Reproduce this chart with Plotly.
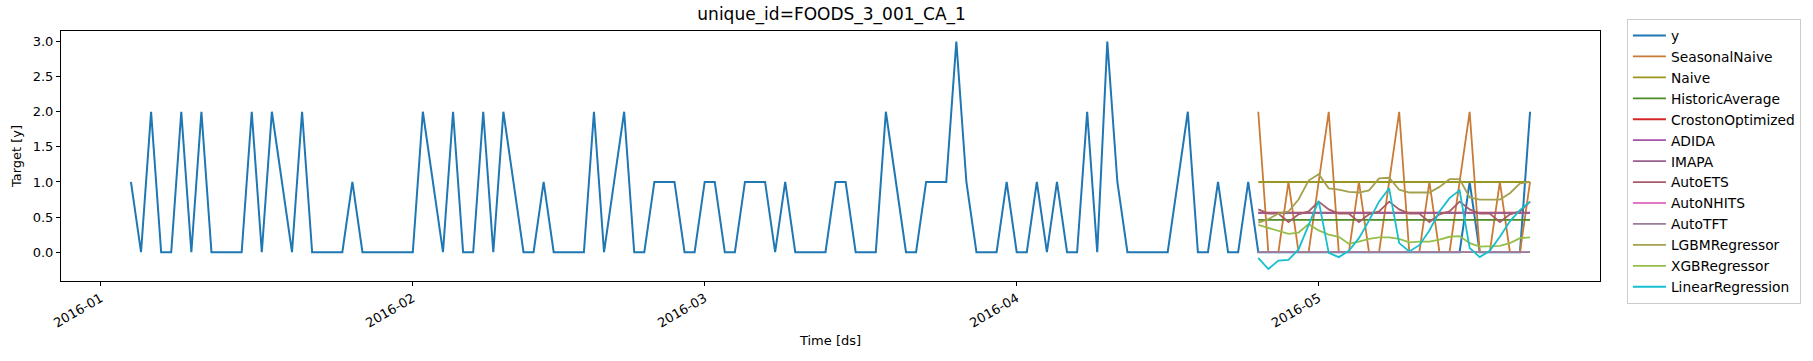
import pandas as pd
import plotly.graph_objects as go

# ---------------- data ----------------
y_start = "2016-01-04"
y_values = [
    1, 0, 2, 0, 0, 2, 0, 2, 0, 0, 0, 0, 2, 0, 2, 1, 0, 2, 0, 0,
    0, 0, 1, 0, 0, 0, 0, 0, 0, 2, 1, 0, 2, 0, 0, 2, 0, 2, 1, 0,
    0, 1, 0, 0, 0, 0, 2, 0, 1, 2, 0, 0, 1, 1, 1, 0, 0, 1, 1, 0,
    0, 1, 1, 1, 0, 1, 0, 0, 0, 0, 1, 1, 0, 0, 0, 2, 1, 0, 0, 1,
    1, 1, 3, 1, 0, 0, 0, 1, 0, 0, 1, 0, 1, 0, 0, 2, 0, 3, 1, 0,
    0, 0, 0, 0, 1, 2, 0, 0, 1, 0, 0, 1, 0, 0, 0, 0, 0, 0, 0, 0,
    0, 0, 0, 0, 0, 0, 0, 0, 0, 0, 0, 0, 0, 1, 0, 0, 0, 0, 0, 2,
]

fc_start = "2016-04-25"
seasonal_naive = [2, 0, 0, 1, 0, 0, 1] * 4
naive = [1.0] * 28
historic_average = [0.46] * 28
croston_optimized = [0.565] * 28
adida = [0.56] * 28
imapa = [0.56] * 28
auto_ets = [0.61, 0.55, 0.55, 0.43, 0.54, 0.58, 0.72] * 4
auto_nhits = [0.0] * 28
auto_tft = [0.0] * 28
lgbm = [0.42, 0.47, 0.55, 0.58, 0.75, 1.02, 1.11, 0.91, 0.89, 0.86,
        0.85, 0.88, 1.05, 1.06, 0.89, 0.85, 0.85, 0.85, 0.93, 1.04,
        1.04, 0.78, 0.75, 0.75, 0.75, 0.84, 0.98, 1.0]
xgb = [0.39, 0.35, 0.30, 0.26, 0.28, 0.40, 0.31, 0.25, 0.22, 0.12,
       0.15, 0.19, 0.21, 0.21, 0.19, 0.14, 0.15, 0.15, 0.18, 0.22,
       0.23, 0.13, 0.08, 0.08, 0.09, 0.13, 0.20, 0.21]
linreg = [-0.08, -0.24, -0.12, -0.11, 0.04, 0.38, 0.73, -0.01, -0.07, 0.02,
          0.20, 0.45, 0.72, 0.91, 0.13, 0.01, 0.10, 0.31, 0.58, 0.77,
          0.88, 0.06, -0.07, 0.02, 0.22, 0.44, 0.60, 0.72]

series = [
    ("SeasonalNaive", seasonal_naive, "#c97b35"),
    ("Naive", naive, "#9a961f"),
    ("HistoricAverage", historic_average, "#4e8a25"),
    ("CrostonOptimized", croston_optimized, "#d62728"),
    ("ADIDA", adida, "#a552a8"),
    ("IMAPA", imapa, "#985d8c"),
    ("AutoETS", auto_ets, "#a65c68"),
    ("AutoNHITS", auto_nhits, "#e377c2"),
    ("AutoTFT", auto_tft, "#9a7d98"),
    ("LGBMRegressor", lgbm, "#a3a04e"),
    ("XGBRegressor", xgb, "#94bf4a"),
    ("LinearRegression", linreg, "#17becf"),
]

# ---------------- figure ----------------
y_dates = pd.date_range(y_start, periods=len(y_values), freq="D")
fc_dates = pd.date_range(fc_start, periods=28, freq="D")

fig = go.Figure()
fig.add_trace(go.Scatter(x=y_dates, y=y_values, mode="lines", name="y",
                         line=dict(color="#1f77b4", width=2)))
for name, vals, color in series:
    fig.add_trace(go.Scatter(x=fc_dates, y=vals, mode="lines", name=name,
                             line=dict(color=color, width=1.8)))

pad = pd.Timedelta(days=6.95)
FONT = "DejaVu Sans, sans-serif"

fig.update_layout(
    width=1813, height=361,
    margin=dict(l=61, r=211, t=31, b=80),
    paper_bgcolor="white", plot_bgcolor="white",
    font=dict(family=FONT, size=13, color="black"),
    title=dict(text="unique_id=FOODS_3_001_CA_1", x=0.4587, xanchor="center",
               y=0.962, yanchor="middle", font=dict(size=17, family=FONT)),
    showlegend=True,
    legend=dict(x=1.0175, xanchor="left", y=1.048, yanchor="top",
                bordercolor="#cccccc", borderwidth=1,
                font=dict(size=13.8, family=FONT), tracegroupgap=0,
                itemwidth=33, maxheight=355),
    xaxis=dict(range=[y_dates[0] - pad, y_dates[-1] + pad], automargin=False,
               tickvals=pd.to_datetime(["2016-01-01", "2016-02-01", "2016-03-01",
                                        "2016-04-01", "2016-05-01"]),
               tickformat="%Y-%m", tickangle=-30,
               showgrid=False, zeroline=False,
               showline=True, linecolor="black", linewidth=1, mirror=True,
               ticks="outside", ticklen=4, tickcolor="black",
               title=dict(text="Time [ds]", font=dict(size=13), standoff=6),
               tickfont=dict(size=13)),
    yaxis=dict(range=[-0.41, 3.15], tickvals=[0, 0.5, 1, 1.5, 2, 2.5, 3],
               automargin=False, tickformat=".1f",
               showgrid=False, zeroline=False,
               showline=True, linecolor="black", linewidth=1, mirror=True,
               ticks="outside", ticklen=4, tickcolor="black",
               title=dict(text="Target [y]", font=dict(size=13), standoff=8),
               tickfont=dict(size=13)),
)

fig.write_html("out.html", config={"displayModeBar": False},
               post_script="document.body.style.margin='0';")
